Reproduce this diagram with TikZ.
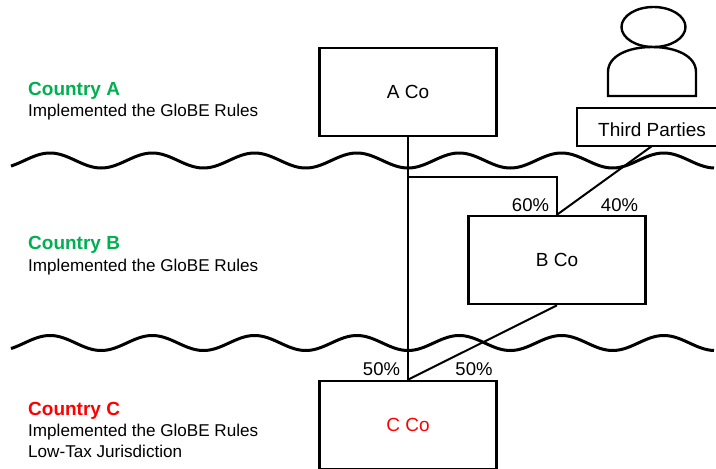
\documentclass[tikz,border=0pt]{standalone}
\usepackage{fontspec}
\setmainfont{Liberation Sans}
\definecolor{ctryg}{HTML}{00B050}
\newcommand{\fsz}[1]{\fontsize{#1}{#1}\selectfont}
\tikzset{
  x=1pt,y=-1pt,
  boxed/.style={draw,line width=2.6pt,minimum width=177pt,minimum height=88pt,inner sep=0pt,font=\fsz{19}},
  link/.style={line width=2pt},
  wave/.style={line width=3pt},
  head/.style={anchor=base west,inner sep=0pt,font=\fsz{19}\bfseries},
  sub/.style={anchor=base west,inner sep=0pt,font=\fsz{17.1}},
  pct/.style={anchor=base,inner sep=0pt,font=\fsz{18.5}},
}
\begin{document}
\begin{tikzpicture}
\useasboundingbox (0,0) rectangle (716,469);
\begin{scope}
\clip (0,0) rectangle (716,469);
% waves
\draw[wave,line join=round] plot[domain=11:714,samples=360] (\x,{160.5-7.5*cos((\x-50)*3.519)});
\draw[wave,line join=round] plot[domain=11:714,samples=360] (\x,{343-7.5*cos((\x-50)*3.519)});
% boxes
\node[boxed] (aco) at (408,92) {A Co};
\node[boxed] (bco) at (557,260) {B Co};
\node[boxed,text=red] (cco) at (408,425) {C Co};
\node[draw,line width=1.4pt,minimum width=150pt,minimum height=38pt,inner sep=0pt] (third) at (652,127) {};
% person
\draw[line width=2.4pt] (653.5,27) ellipse [x radius=32,y radius=20];
\draw[line width=2.4pt] (608,96) -- (608,72) .. controls (608,56) and (628,47) .. (652,47) .. controls (676,47) and (696,56) .. (696,72) -- (696,96) -- cycle;
% connectors
\coordinate (level) at (0,177);
\coordinate (branch) at (aco.south |- level);
\coordinate (corner) at (bco.north |- level);
\coordinate (thirdfoot) at (652,146);
\draw[link] (aco.south) -- (cco.north);
\draw[link] (branch) -- (corner) -- (bco.north);
\draw[link] (thirdfoot) -- (bco.north);
\draw[link] (bco.south) -- (cco.north);
\end{scope}
\node[anchor=base,inner sep=0pt,font=\fsz{19}] (thirdlabel) at (652,136) {Third Parties};
% left labels
\node[head,text=ctryg] (ca) at (28,95) {Country A};
\node[sub] (cas) at (28,116) {Implemented the GloBE Rules};
\node[head,text=ctryg] (cb) at (28,249) {Country B};
\node[sub] (cbs) at (28,271) {Implemented the GloBE Rules};
\node[head,text=red] (cc) at (28,415) {Country C};
\node[sub] (ccs) at (28,436) {Implemented the GloBE Rules};
\node[sub] (ccl) at (28,457) {Low-Tax Jurisdiction};
% percentages
\node[pct] (p60) at (530.5,211) {60\%};
\node[pct] (p40) at (619.5,211) {40\%};
\node[pct] (p50a) at (381.5,375) {50\%};
\node[pct] (p50b) at (474,375) {50\%};
\end{tikzpicture}
\end{document}
